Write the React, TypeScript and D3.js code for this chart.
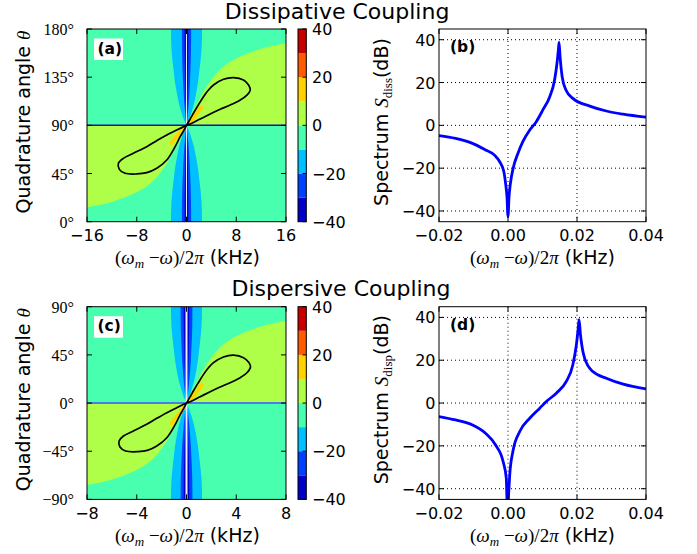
import React from 'react';
import * as d3 from 'd3';

const SANS = 'DejaVu Sans';
const SERIF = 'Liberation Serif';

// filled contour levels (jet), -40 .. 40 in steps of 10
const levels = [-40, -30, -20, -10, 0, 10, 20, 30, 40];
const levelColors = ['#0000c8', '#0040ff', '#00c0ff', '#48ffaf', '#afff48', '#ffd200', '#ff5c00', '#c80000'];
const cbarTicks = [-40, -20, 0, 20, 40];

// ---- (a) dissipative coupling, map over (detuning kHz, theta deg) ----
const aXTicks = [-16, -8, 0, 8, 16];
const aYTicks = [0, 45, 90, 135, 180];
const aYTickLabels = ['0°', '45°', '90°', '135°', '180°'];
const aGreenUpper: [number, number][] = [[0, 90], [0.35, 95], [0.85, 101], [1.5, 108], [2.2, 116], [2.9, 123], [3.7, 130], [4.8, 138.5], [6.2, 146], [8, 152.5], [10, 157.5], [12, 161.5], [14, 164.5], [16, 166.6]];
const aGreenLower: [number, number][] = [[0, 90], [-0.35, 85], [-0.85, 79], [-1.5, 72], [-2.2, 64], [-2.9, 57], [-3.7, 50], [-4.8, 41.5], [-6.2, 34], [-8, 27.5], [-10, 22.5], [-12, 18.5], [-14, 15.5], [-16, 13.4]];
const aBandTheta = [0, 10, 20, 30, 40, 50, 60, 70, 80, 85, 90, 95, 100, 110, 120, 130, 140, 150, 160, 170, 180];
const aLightHalf = [2.5, 2.48, 2.4, 2.25, 2.05, 1.85, 1.55, 1.2, 0.7, 0.4, 0, 0.4, 0.7, 1.2, 1.55, 1.85, 2.05, 2.25, 2.4, 2.48, 2.5];
const aBlueHalf = [0.75, 0.74, 0.72, 0.68, 0.62, 0.55, 0.46, 0.35, 0.2, 0.12, 0, 0.12, 0.2, 0.35, 0.46, 0.55, 0.62, 0.68, 0.72, 0.74, 0.75];
const aDarkHalf = [0.3, 0.3, 0.29, 0.27, 0.25, 0.22, 0.18, 0.14, 0.08, 0.05, 0, 0.05, 0.08, 0.14, 0.18, 0.22, 0.25, 0.27, 0.29, 0.3, 0.3];
const aGold: [number, number][][] = [[[0.5, 92.5], [2.4, 106.5]], [[-0.5, 87.5], [-2.4, 73.5]]];
const aLoop: [number, number][] = [
  [0, 90], [0.5, 95], [1.11, 101.3], [1.9, 109], [2.73, 116.8], [3.5, 122.8], [4.34, 127.7], [5.95, 133], [7.56, 134.5],
  [9.17, 132.4], [9.98, 127.7], [10.25, 123], [9.72, 118.3], [8.64, 113.7], [7.03, 109], [5.42, 105], [3.81, 100.6],
  [2.2, 95.9], [0.59, 91.3], [0, 90], [-1.56, 85.7], [-3.17, 81], [-4.78, 75.7], [-6.39, 70.1], [-8.54, 63.9],
  [-10.15, 59.2], [-10.95, 54.5], [-10.8, 48.9], [-9.88, 45.2], [-8, 44.6], [-6.39, 45.8], [-4.78, 49.9],
  [-3.17, 57.6], [-1.83, 70.1], [-1.02, 79.4], [-0.38, 85.7],
];

// ---- (c) dispersive coupling map ----
const cXTicks = [-8, -4, 0, 4, 8];
const cYTicks = [-90, -45, 0, 45, 90];
const cYTickLabels = ['−90°', '−45°', '0°', '45°', '90°'];
const cGreenUpper: [number, number][] = [[0, 0], [0.18, 5], [0.43, 11], [0.75, 18], [1.1, 26], [1.45, 33], [1.85, 40], [2.4, 48.5], [3.1, 56], [4, 62.5], [5, 67.5], [6, 71.5], [7, 74.5], [8, 76.6]];
const cGreenLower: [number, number][] = [[0, 0], [-0.18, -5], [-0.43, -11], [-0.75, -18], [-1.1, -26], [-1.45, -33], [-1.85, -40], [-2.4, -48.5], [-3.1, -56], [-4, -62.5], [-5, -67.5], [-6, -71.5], [-7, -74.5], [-8, -76.6]];
const cBandTheta = [-90, -80, -70, -60, -50, -40, -30, -20, -10, -5, 0, 5, 10, 20, 30, 40, 50, 60, 70, 80, 90];
const cLightHalf = [1.25, 1.24, 1.2, 1.12, 1.02, 0.92, 0.78, 0.6, 0.35, 0.2, 0, 0.2, 0.35, 0.6, 0.78, 0.92, 1.02, 1.12, 1.2, 1.24, 1.25];
const cBlueHalf = [0.48, 0.47, 0.46, 0.43, 0.39, 0.35, 0.29, 0.22, 0.13, 0.07, 0, 0.07, 0.13, 0.22, 0.29, 0.35, 0.39, 0.43, 0.46, 0.47, 0.48];
const cDarkHalf = [0.22, 0.22, 0.21, 0.2, 0.18, 0.16, 0.13, 0.1, 0.06, 0.04, 0, 0.04, 0.06, 0.1, 0.13, 0.16, 0.18, 0.2, 0.21, 0.22, 0.22];
const cGold: [number, number][][] = [[[0.23, 2.1], [1.23, 16.8]], [[-0.2, -4], [-1.19, -19]]];
const cLoop: [number, number][] = [
  [0, 0], [0.25, 5], [0.55, 11.3], [0.95, 19], [1.37, 26.8], [1.75, 32.8], [2.17, 37.7], [2.97, 43], [3.78, 44.7],
  [4.58, 42.4], [5.0, 38], [5.15, 34], [4.86, 28.3], [4.32, 23.7], [3.5, 19], [2.7, 15], [1.9, 10.6], [1.1, 5.9],
  [0.3, 1.3], [0, 0], [-0.78, -4.3], [-1.58, -9], [-2.39, -14.3], [-3.2, -19.9], [-4.27, -26.1], [-5.07, -30.8],
  [-5.42, -35.5], [-5.35, -41.1], [-4.9, -44.8], [-3.9, -45.4], [-3.15, -44.2], [-2.39, -40.1], [-1.58, -32.4],
  [-0.9, -19.9], [-0.5, -10.6], [-0.19, -4.3],
];

// ---- (b), (d) spectra ----
const specXTicks = [-0.02, 0, 0.02, 0.04];
const specXLabels = ['−0.02', '0.00', '0.02', '0.04'];
const specYTicks = [-40, -20, 0, 20, 40];
const specYLabels = ['−40', '−20', '0', '20', '40'];
const dissX = [-0.02, -0.0152, -0.0103, -0.0065, -0.0039, -0.0024, -0.0012, -0.0007, -0.0003, 0, 0.0003, 0.0007, 0.0015, 0.0029, 0.0043, 0.0063, 0.0082, 0.0101, 0.0121, 0.0135, 0.0142, 0.0146, 0.0148, 0.0151, 0.0157, 0.0168, 0.0188, 0.0237, 0.0285, 0.0334, 0.04];
const dissY = [-4.8, -6.1, -8.4, -11.5, -13.9, -17, -21.7, -27.1, -33.3, -42.5, -33.3, -27.1, -20, -13, -7.6, -2.2, 1.7, 7.2, 13.4, 21.2, 29, 35.2, 38.8, 32, 22.7, 16.5, 12.6, 9, 6.7, 5.2, 3.8];
const dispX = [-0.02, -0.0152, -0.0103, -0.0065, -0.0036, -0.0014, -0.0005, -0.00015, 0.0002, 0.0005, 0.0014, 0.0034, 0.0063, 0.0092, 0.0111, 0.014, 0.0169, 0.0188, 0.0198, 0.0203, 0.0206, 0.021, 0.0216, 0.0222, 0.0246, 0.0285, 0.0334, 0.04];
const dispY = [-6.3, -7.9, -10.2, -14.1, -19.6, -27.4, -35.1, -52, -42, -33.6, -22.7, -13.3, -7.1, -2.4, 0.7, 4.6, 10.1, 17.9, 27, 34, 38.9, 32, 25, 21, 14.7, 11.6, 8.8, 6.6];

type Pt = [number, number];

function XLabel({ x, y }: { x: number; y: number }) {
  return (
    <text x={x} y={y} fontSize={19} fill="#000">
      <tspan fontFamily={SERIF}>(</tspan>
      <tspan fontFamily={SERIF} fontStyle="italic">ω</tspan>
      <tspan fontFamily={SERIF} fontStyle="italic" fontSize={13} dy={4}>m</tspan>
      <tspan fontFamily={SERIF} dy={-4}>{' −'}</tspan>
      <tspan fontFamily={SERIF} fontStyle="italic">ω</tspan>
      <tspan fontFamily={SERIF}>)/2</tspan>
      <tspan fontFamily={SERIF} fontStyle="italic">π</tspan>
      <tspan fontFamily={SANS}>{' (kHz)'}</tspan>
    </text>
  );
}

function ContourPanel(p: any) {
  const L = 87, R = 286, T = p.top, B = p.top + 192.7;
  const x = d3.scaleLinear().domain(p.xDomain).range([L, R]);
  const y = d3.scaleLinear().domain(p.yDomain).range([B, T]);
  const mid = (p.yDomain[0] + p.yDomain[1]) / 2;
  const smooth = d3.line<Pt>().x(d => x(d[0])).y(d => y(d[1])).curve(d3.curveCatmullRom);
  const lin = d3.line<Pt>().x(d => x(d[0])).y(d => y(d[1]));
  const loopPath = d3.line<Pt>().x(d => x(d[0])).y(d => y(d[1])).curve(d3.curveCatmullRomClosed.alpha(0.5));
  const green = (edge: Pt[], xe: number) => smooth(edge) + `L${x(xe)},${y(mid)}Z`;
  const band = (half: number[]) => {
    const pts: Pt[] = p.bandTheta.map((t: number, i: number) => [-half[i], t] as Pt)
      .concat(p.bandTheta.map((t: number, i: number) => [half[i], t] as Pt).reverse());
    return lin(pts) + 'Z';
  };
  const cy = d3.scaleLinear().domain([-40, 40]).range([B, T]);
  const id = `clip-${p.name}`;
  return (
    <g>
      <defs>
        <clipPath id={id}><rect x={L} y={T} width={R - L} height={B - T} /></clipPath>
      </defs>
      <g clipPath={`url(#${id})`}>
        <rect x={L} y={T} width={R - L} height={B - T} fill={levelColors[3]} />
        <path d={green(p.greenUpper, p.xDomain[1])} fill={levelColors[4]} />
        <path d={green(p.greenLower, p.xDomain[0])} fill={levelColors[4]} />
        <path d={band(p.lightHalf)} fill={levelColors[2]} />
        <path d={band(p.blueHalf)} fill={levelColors[1]} />
        <path d={band(p.darkHalf)} fill={levelColors[0]} />
        <rect x={x(-p.whiteHalf)} y={T} width={x(p.whiteHalf) - x(-p.whiteHalf)} height={B - T} fill="#eeeeff" />
        {p.gold.map((g: Pt[], i: number) => (
          <path key={i} d={lin(g) as string} stroke={levelColors[5]} strokeWidth={3.8} strokeLinecap="round" fill="none" />
        ))}
        <line x1={L} x2={R} y1={y(mid)} y2={y(mid)} stroke={p.hColor} strokeWidth={p.hWidth} />
        <path d={loopPath(p.loop) as string} fill="none" stroke="#000" strokeWidth={1.7} />
      </g>
      <rect x={L} y={T} width={R - L} height={B - T} fill="none" stroke="#000" strokeWidth={1} />
      {p.xTicks.map((t: number) => (
        <g key={t}>
          <line x1={x(t)} x2={x(t)} y1={B} y2={B - 5} stroke="#000" />
          <line x1={x(t)} x2={x(t)} y1={T} y2={T + 5} stroke="#000" />
          <text x={x(t)} y={B + 19.5} fontFamily={SANS} fontSize={16} textAnchor="middle">{t < 0 ? `−${-t}` : `${t}`}</text>
        </g>
      ))}
      {p.yTicks.map((t: number, i: number) => (
        <g key={t}>
          <line x1={L} x2={L + 5} y1={y(t)} y2={y(t)} stroke="#000" />
          <line x1={R} x2={R - 5} y1={y(t)} y2={y(t)} stroke="#000" />
          <text x={74} y={y(t) + 6} fontFamily={SERIF} fontSize={16} textAnchor="end">{p.yTickLabels[i]}</text>
        </g>
      ))}
      <rect x={94} y={T + 9.5} width={29} height={21.5} fill="#fff" />
      <text x={97.5} y={T + 24.5} fontFamily={SANS} fontWeight="bold" fontSize={15.5}>{p.label}</text>
      <text transform={`translate(29.5,${T + 93}) rotate(-90)`} fontFamily={SANS} fontSize={19} textAnchor="middle">
        Quadrature angle <tspan fontFamily={SERIF} fontStyle="italic">θ</tspan>
      </text>
      <XLabel x={115} y={B + 42.5} />
      {/* colour bar */}
      {levelColors.map((c, i) => (
        <rect key={c} x={298} y={cy(levels[i + 1])} width={8.3} height={cy(levels[i]) - cy(levels[i + 1])} fill={c} />
      ))}
      <rect x={298} y={T} width={8.3} height={B - T} fill="none" stroke="#000" strokeWidth={1} />
      {cbarTicks.map(t => (
        <g key={t}>
          <line x1={306.3} x2={302.5} y1={cy(t)} y2={cy(t)} stroke="#000" />
          <text x={312} y={cy(t) + 6} fontFamily={SANS} fontSize={16}>{t < 0 ? `−${-t}` : `${t}`}</text>
        </g>
      ))}
    </g>
  );
}

function SpectrumPanel(p: any) {
  const L = 439, R = 646, T = p.top, B = p.top + 192.7;
  const x = d3.scaleLinear().domain([-0.02, 0.04]).range([L, R]);
  const y = d3.scaleLinear().domain([-45, 45]).range([B, T]);
  const pts: Pt[] = p.xs.map((v: number, i: number) => [v, p.ys[i]] as Pt);
  const line = d3.line<Pt>().x(d => x(d[0])).y(d => y(d[1])).curve(d3.curveMonotoneX);
  const id = `clip-${p.name}`;
  return (
    <g>
      <defs>
        <clipPath id={id}><rect x={L} y={T} width={R - L} height={B - T} /></clipPath>
      </defs>
      {specXTicks.slice(1, 3).map(t => (
        <line key={t} x1={x(t)} x2={x(t)} y1={T} y2={B} stroke="#000" strokeWidth={1} strokeDasharray="1,3" />
      ))}
      {specYTicks.map(t => (
        <line key={t} x1={L} x2={R} y1={y(t)} y2={y(t)} stroke="#000" strokeWidth={1} strokeDasharray="1,3" />
      ))}
      <path d={line(pts) as string} clipPath={`url(#${id})`} fill="none" stroke="#0000ff" strokeWidth={2.8} strokeLinejoin="round" />
      <rect x={L} y={T} width={R - L} height={B - T} fill="none" stroke="#000" strokeWidth={1} />
      {specXTicks.map((t, i) => (
        <g key={t}>
          <line x1={x(t)} x2={x(t)} y1={B} y2={B - 5} stroke="#000" />
          <line x1={x(t)} x2={x(t)} y1={T} y2={T + 5} stroke="#000" />
          <text x={x(t)} y={B + 19.5} fontFamily={SANS} fontSize={16} textAnchor="middle">{specXLabels[i]}</text>
        </g>
      ))}
      {specYTicks.map((t, i) => (
        <g key={t}>
          <line x1={L} x2={L + 5} y1={y(t)} y2={y(t)} stroke="#000" />
          <line x1={R} x2={R - 5} y1={y(t)} y2={y(t)} stroke="#000" />
          <text x={435.5} y={y(t) + 6} fontFamily={SANS} fontSize={16} textAnchor="end">{specYLabels[i]}</text>
        </g>
      ))}
      <text x={450} y={T + 23} fontFamily={SANS} fontWeight="bold" fontSize={15.5}>{p.label}</text>
      <text transform={`translate(387.5,${T + 93}) rotate(-90)`} fontFamily={SANS} fontSize={19} textAnchor="middle">
        {'Spectrum '}<tspan fontFamily={SERIF} fontStyle="italic">S</tspan>
        <tspan fontFamily={SERIF} fontSize={13} dy={4}>{p.sub}</tspan>
        <tspan dy={-4}>(dB)</tspan>
      </text>
      <XLabel x={470} y={B + 42.5} />
    </g>
  );
}

export default function App() {
  return (
    <svg width={697} height={554} style={{ position: 'absolute', left: 0, top: 0, background: '#fff' }}>
      <text x={337} y={18.5} fontFamily={SANS} fontSize={22} textAnchor="middle">Dissipative Coupling</text>
      <text x={341} y={296} fontFamily={SANS} fontSize={22} textAnchor="middle">Dispersive Coupling</text>
      <ContourPanel name="a" top={29} xDomain={[-16, 16]} yDomain={[0, 180]} xTicks={aXTicks} yTicks={aYTicks}
        yTickLabels={aYTickLabels} greenUpper={aGreenUpper} greenLower={aGreenLower} bandTheta={aBandTheta}
        lightHalf={aLightHalf} blueHalf={aBlueHalf} darkHalf={aDarkHalf} whiteHalf={0.08} gold={aGold} loop={aLoop}
        hColor="#1010b0" hWidth={1.5} label="(a)" />
      <SpectrumPanel name="b" top={29} xs={dissX} ys={dissY} label="(b)" sub="diss" />
      <ContourPanel name="c" top={306.7} xDomain={[-8, 8]} yDomain={[-90, 90]} xTicks={cXTicks} yTicks={cYTicks}
        yTickLabels={cYTickLabels} greenUpper={cGreenUpper} greenLower={cGreenLower} bandTheta={cBandTheta}
        lightHalf={cLightHalf} blueHalf={cBlueHalf} darkHalf={cDarkHalf} whiteHalf={0.08} gold={cGold} loop={cLoop}
        hColor="#4a7de6" hWidth={2} label="(c)" />
      <SpectrumPanel name="d" top={306.7} xs={dispX} ys={dispY} label="(d)" sub="disp" />
    </svg>
  );
}
